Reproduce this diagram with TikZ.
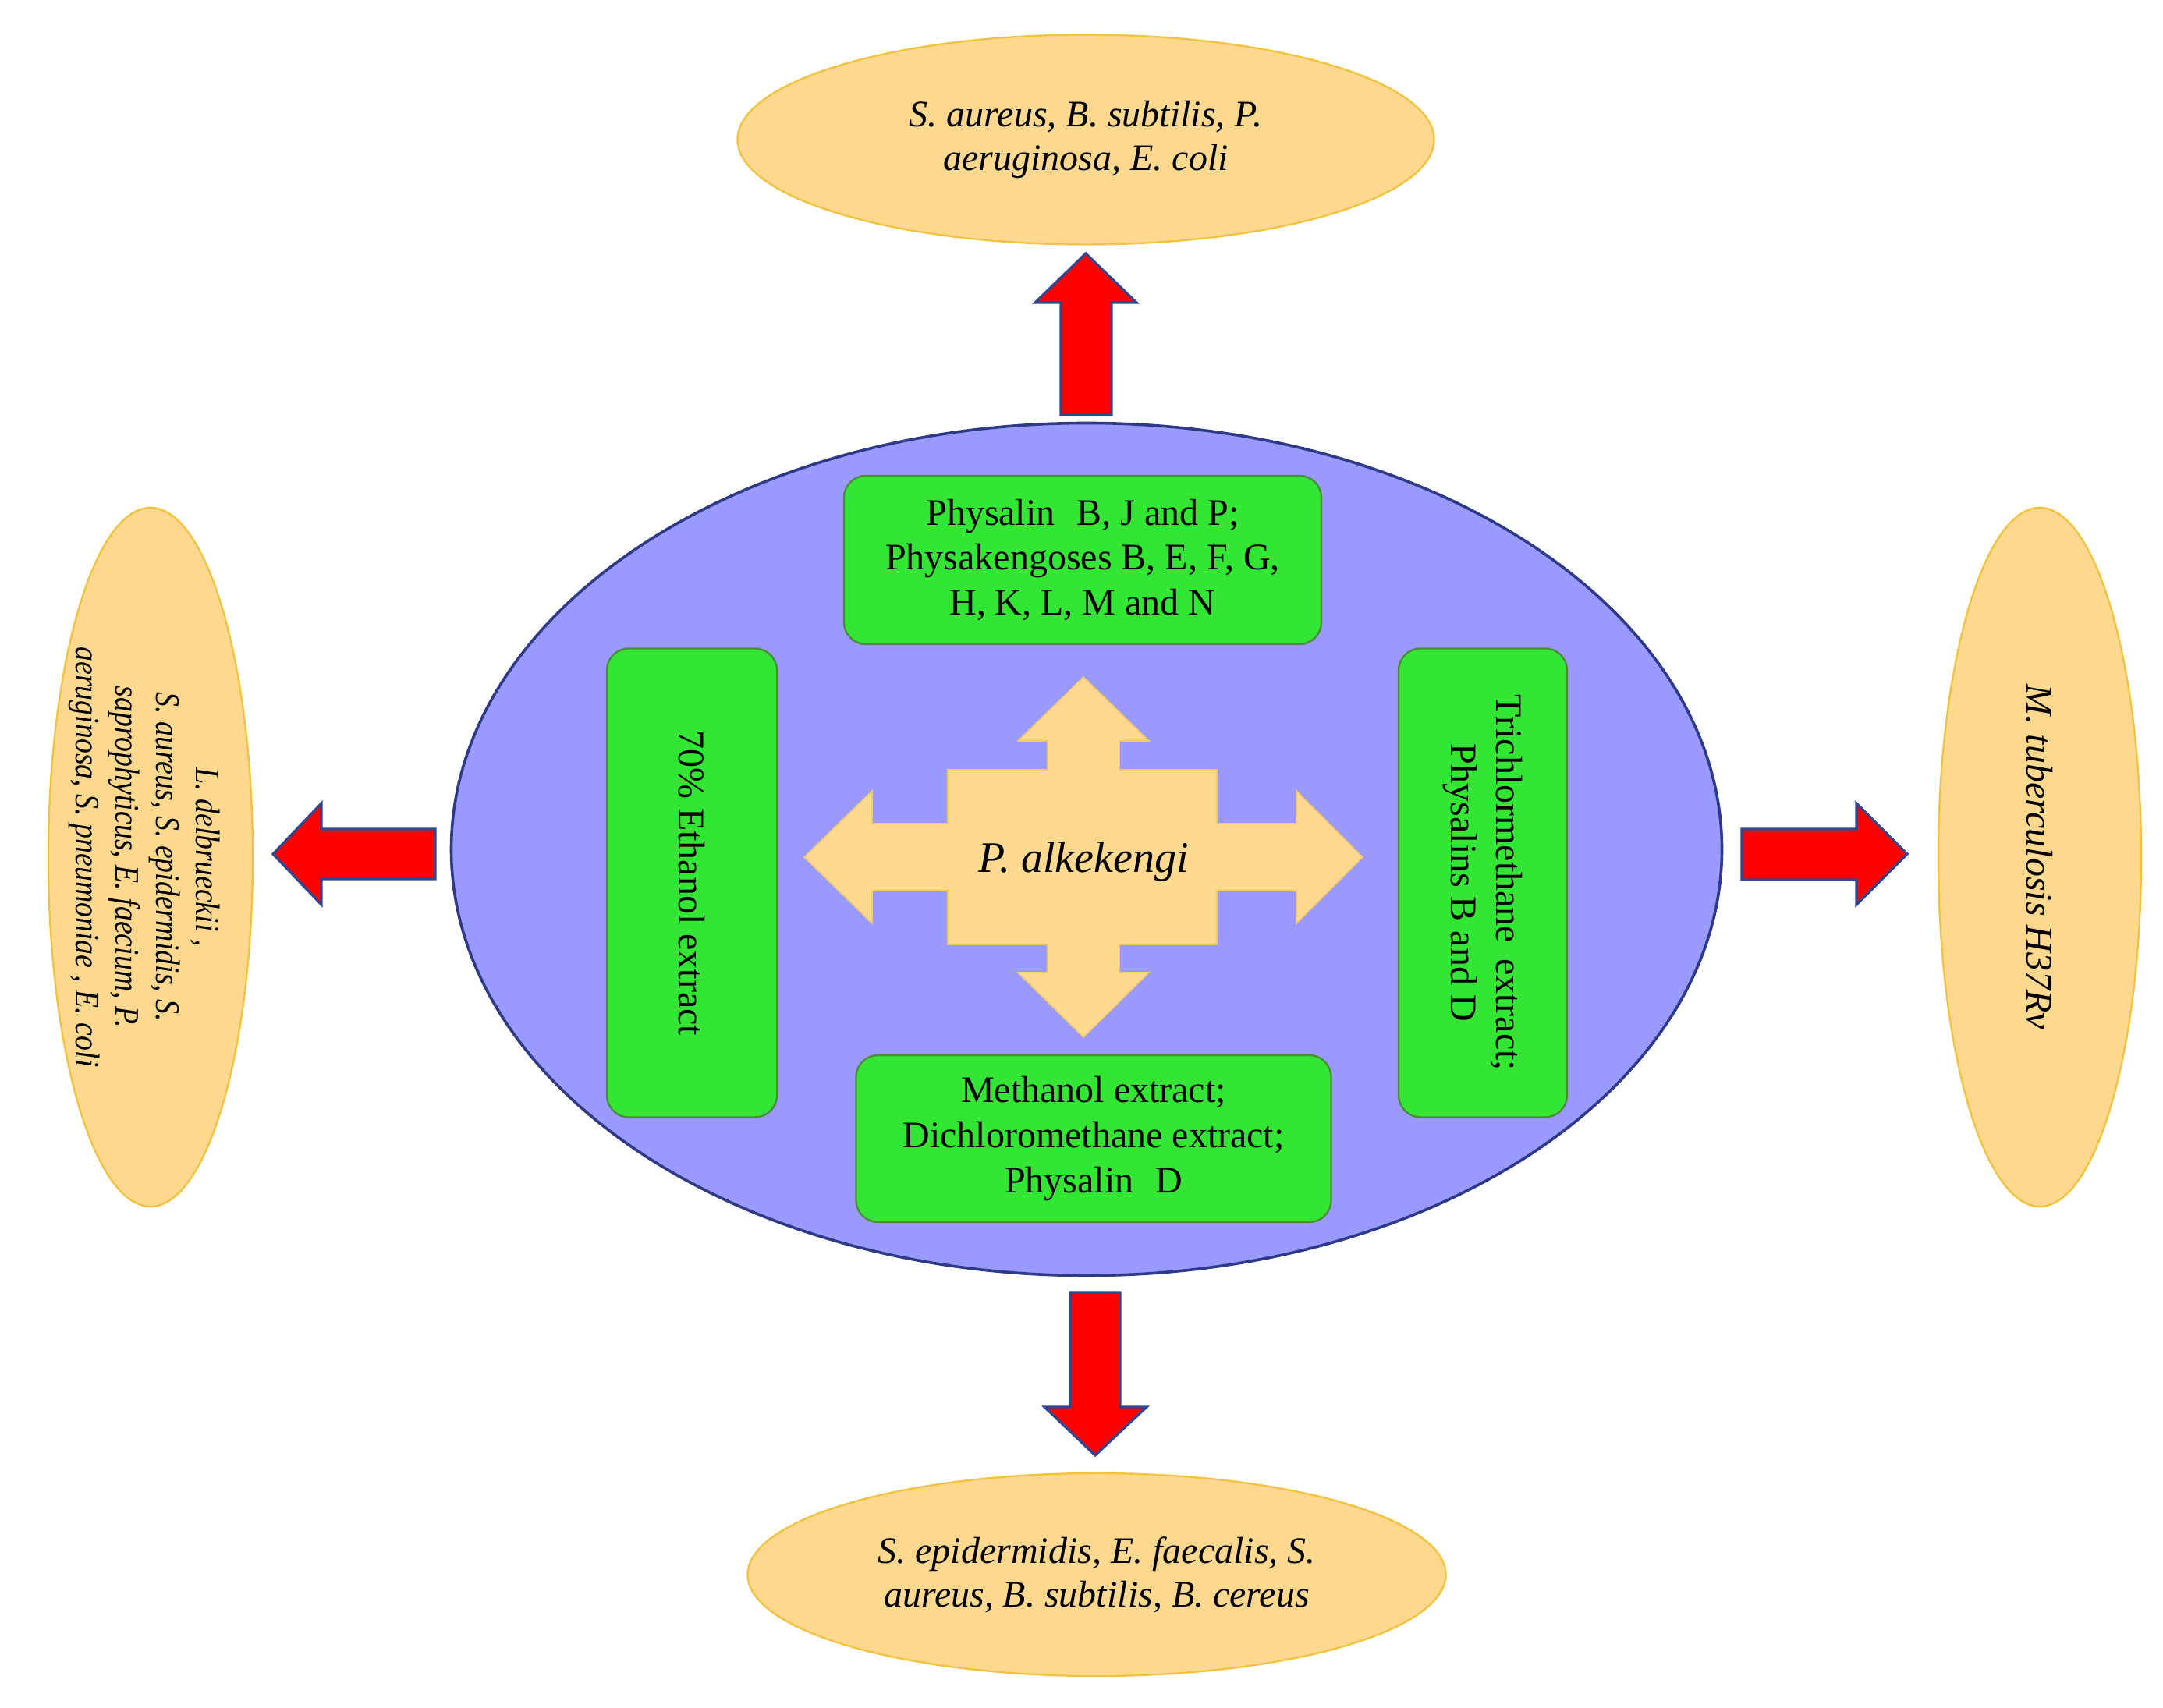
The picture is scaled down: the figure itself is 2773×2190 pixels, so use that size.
\documentclass[tikz,border=0pt]{standalone}
\usepackage{fontspec}
\setmainfont{Liberation Serif}
\newfontfamily\narrowserif[FakeStretch=0.86]{Liberation Serif}
\usetikzlibrary{shapes.geometric}
\definecolor{orfill}{HTML}{FED88F}
\definecolor{ordraw}{HTML}{F2C340}
\definecolor{mainfill}{HTML}{9999FF}
\definecolor{maindraw}{HTML}{2E3A87}
\definecolor{grfill}{HTML}{33E633}
\definecolor{grdraw}{HTML}{4D8B3A}
\definecolor{crossfill}{HTML}{FFD98F}
\definecolor{crossdraw}{HTML}{F2C86E}
\definecolor{arrfill}{HTML}{FF0000}
\definecolor{arrdraw}{HTML}{2F4690}
\begin{document}
\begin{tikzpicture}[x=0.25pt,y=-0.25pt,
  oell/.style={ellipse, fill=orfill, draw=ordraw, line width=0.6pt, inner sep=0pt},
  otext/.style={inner sep=0pt, align=center, font=\fontsize{12}{14}\selectfont\itshape},
  gbox/.style={rectangle, rounded corners=7pt, fill=grfill, draw=grdraw, line width=0.6pt,
    inner sep=0pt, align=center, font=\fontsize{12}{14.4}\selectfont},
  redarrow/.style={fill=arrfill, draw=arrdraw, line width=0.8pt, line join=miter},
  crossshape/.style={fill=crossfill, draw=crossdraw, line width=0.4pt}]
\useasboundingbox (0,0) rectangle (2773,2190);

% main ellipse
\node[ellipse, fill=mainfill, draw=maindraw, line width=0.9pt, inner sep=0pt,
  minimum width=407.25pt, minimum height=273.25pt] (main) at (1393,1089) {};

% outer ellipses
\node[oell, minimum width=223.25pt, minimum height=67.25pt] (top) at (1392,179) {};
\node[oell, minimum width=223.75pt, minimum height=65pt] (bottom) at (1406,2019) {};
\node[oell, rotate=-90, minimum width=224pt, minimum height=65.5pt] (left) at (193,1099) {};
\node[oell, rotate=-90, minimum width=224pt, minimum height=65pt] (right) at (2615,1099) {};

\node[otext] (topT) at (top.center) {S. aureus, B. subtilis, P.\\aeruginosa, E. coli};
\node[otext] (bottomT) at (bottom.center) {S. epidermidis, E. faecalis, S.\\aureus, B. subtilis, B. cereus};
\node[otext, rotate=-90, font=\narrowserif\itshape\fontsize{11}{12.8}\selectfont] (leftT) at ([xshift=-2pt]left.center)
  {L. delbrueckii ,\\S. aureus, S. epidermidis, S.\\saprophyticus, E. faecium, P.\\aeruginosa, S. pneumoniae , E. coli};
\node[otext, rotate=-90] (rightT) at (right.center) {M. tuberculosis H37Rv};

% red arrows
\draw[redarrow] (1392,325) -- (1457,388) -- (1425,388) -- (1425,532) -- (1360,532) -- (1360,388) -- (1327,388) -- cycle;
\draw[redarrow] (350,1095) -- (412,1030) -- (412,1063) -- (558,1063) -- (558,1127) -- (412,1127) -- (412,1160) -- cycle;
\draw[redarrow] (2445,1095) -- (2380,1030) -- (2380,1063) -- (2233,1063) -- (2233,1128) -- (2380,1128) -- (2380,1160) -- cycle;
\draw[redarrow] (1404,1866) -- (1470,1804) -- (1436,1804) -- (1436,1657) -- (1372,1657) -- (1372,1804) -- (1339,1804) -- cycle;

% green boxes
\node[gbox, minimum width=153pt, minimum height=54pt] (gtop) at (1388,718)
  {Physalin\hspace{7pt}B, J and P;\\Physakengoses B, E, F, G,\\H, K, L, M and N};
\node[gbox, rotate=-90, minimum width=150.25pt, minimum height=54.5pt] (gleft) at (887,1132)
  {70\% Ethanol extract};
\node[gbox, rotate=-90, minimum width=150.25pt, minimum height=54pt] (gright) at (1901,1132)
  {Trichlormethane\hspace{5pt}extract;\\Physalins B and D};
\node[gbox, minimum width=152.25pt, minimum height=53.5pt] (gbottom) at (1402,1460)
  {Methanol extract;\\Dichloromethane extract;\\Physalin\hspace{7pt}D};

% central cross
\draw[crossshape] (1389,868) -- (1473,950) -- (1435,950) -- (1435,987) -- (1560,987) -- (1560,1056)
  -- (1662,1056) -- (1662,1014) -- (1747,1099) -- (1662,1184) -- (1662,1142) -- (1560,1142)
  -- (1560,1211) -- (1435,1211) -- (1435,1247) -- (1473,1247) -- (1389,1330) -- (1305,1247)
  -- (1343,1247) -- (1343,1211) -- (1215,1211) -- (1215,1142) -- (1118,1142) -- (1118,1184)
  -- (1031,1099) -- (1118,1014) -- (1118,1056) -- (1215,1056) -- (1215,987) -- (1343,987)
  -- (1343,950) -- (1305,950) -- cycle;
\node[inner sep=0pt, font=\fontsize{14}{16}\selectfont\itshape] (center) at (1389,1105) {P. alkekengi};
\end{tikzpicture}
\end{document}
